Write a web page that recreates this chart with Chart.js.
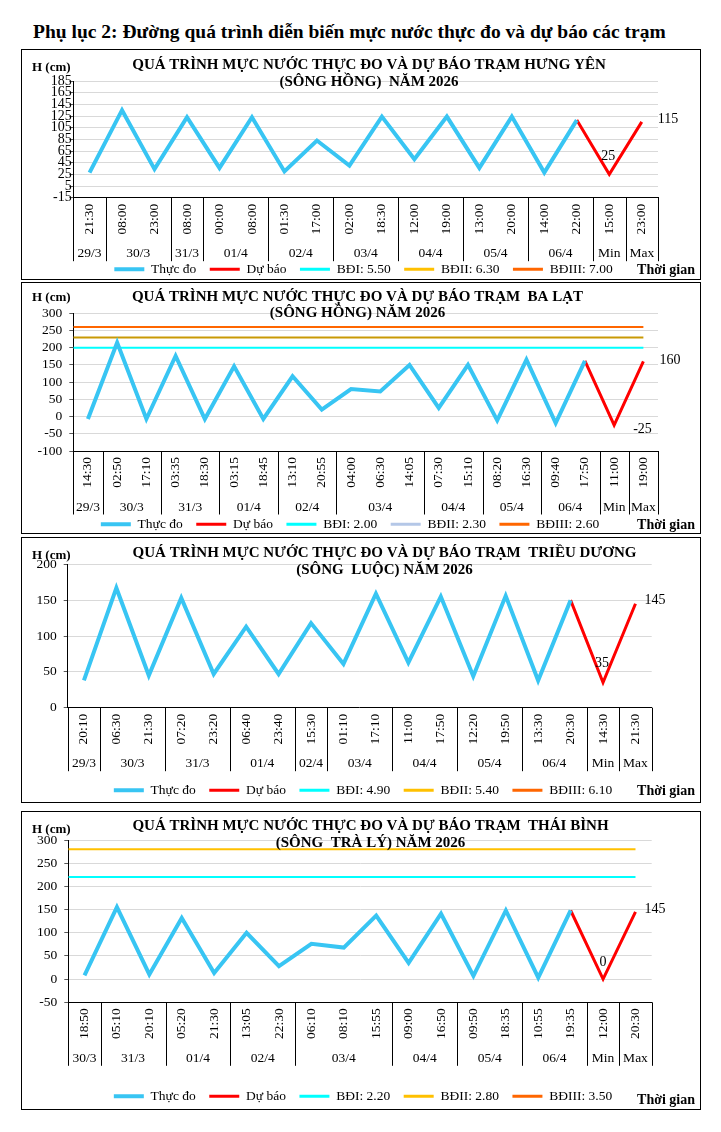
<!DOCTYPE html>
<html>
<head>
<meta charset="utf-8">
<script src="https://cdn.jsdelivr.net/npm/chart.js@4.4.1/dist/chart.umd.min.js"></script>
<style>
  body { margin: 0; width: 721px; height: 1132px; background: #fff; position: relative; overflow: hidden;
         font-family: 'Liberation Serif', 'Times New Roman', serif; }
  #header { position: absolute; left: 33px; top: 21px; font-size: 19.5px; line-height: 22px; font-weight: bold; white-space: nowrap; }
  .panel { position: absolute; left: 21px; width: 678px; border: 1px solid #000; }
  canvas { position: absolute; left: 22px; }
</style>
</head>
<body>
<div id="header">Phụ lục 2: Đường quá trình diễn biến mực nước thực đo và dự báo các trạm</div>

<div class="panel" style="top:49px;height:229px"></div>
<div class="panel" style="top:282px;height:250px"></div>
<div class="panel" style="top:537px;height:264px"></div>
<div class="panel" style="top:811px;height:297px"></div>

<canvas id="c1"></canvas>
<canvas id="c2"></canvas>
<canvas id="c3"></canvas>
<canvas id="c4"></canvas>

<script>
// --- Hưng Yên
const hyTimes = ['21:30','08:00','23:00','08:00','00:00','08:00','01:30','17:00','02:00','18:30','12:00','19:00','13:00','20:00','14:00','22:00','15:00','23:00'];
const hyDays = ['29/3','30/3','31/3','01/4','02/4','03/4','04/4','05/4','06/4','Min','Max'];
const hySpans = [1,2,1,2,2,2,2,2,2,1,1];
const hyMeasured = [28,135,34,123,36,123,30,83,40,124,51,124,36,124,28,118];
const hyForecast = [25,115];
const hyAlarms = [550,630,700];
const hyTicks = [-15,185,20];

// --- Ba Lạt
const blTimes = ['14:30','02:50','17:10','03:35','18:30','03:15','18:45','13:10','20:55','04:00','06:30','14:05','07:30','15:10','08:20','16:30','09:40','17:50','11:00','19:00'];
const blDays = ['29/3','30/3','31/3','01/4','02/4','03/4','04/4','05/4','06/4','Min','Max'];
const blSpans = [1,2,2,2,2,3,2,2,2,1,1];
const blMeasured = [-7,215,-7,176,-7,146,-7,117,20,80,73,150,25,150,-11,165,-19,162];
const blForecast = [-25,160];
const blAlarms = [200,230,260];
const blTicks = [-100,300,50];

// --- Triều Dương
const tdTimes = ['20:10','06:30','21:30','07:20','23:20','06:40','23:40','15:30','01:10','17:10','11:00','17:50','12:20','19:50','13:30','20:30','14:30','21:30'];
const tdDays = ['29/3','30/3','31/3','01/4','02/4','03/4','04/4','05/4','06/4','Min','Max'];
const tdSpans = [1,2,2,2,1,2,2,2,2,1,1];
const tdMeasured = [38,167,45,153,47,113,47,118,61,159,63,155,44,156,38,150];
const tdForecast = [35,145];
const tdAlarms = [490,540,610];
const tdTicks = [0,200,50];

// --- Thái Bình
const tbTimes = ['18:50','05:10','20:10','05:20','21:30','13:05','22:30','06:10','08:10','15:55','09:00','16:50','09:50','18:35','10:55','19:35','12:00','20:30'];
const tbDays = ['30/3','31/3','01/4','02/4','03/4','04/4','05/4','06/4','Min','Max'];
const tbSpans = [1,2,2,2,3,2,2,2,1,1];
const tbMeasured = [8,155,10,132,13,100,28,76,68,137,35,141,7,148,3,148];
const tbForecast = [0,145];
const tbAlarms = [220,280,350];
const tbTicks = [-50,300,50];

const FONT = "'Liberation Serif', 'Times New Roman', serif";
Chart.defaults.font.family = FONT;
Chart.defaults.color = '#000';

const charts = [
  { id: 'c1', top: 50, h: 249, times: hyTimes, days: hyDays, spans: hySpans, measured: hyMeasured, forecast: hyForecast,
    alarms: hyAlarms, ticks: hyTicks,
    title: ['QUÁ TRÌNH MỰC NƯỚC THỰC ĐO VÀ DỰ BÁO TRẠM HƯNG YÊN', '(SÔNG HỒNG)  NĂM 2026'],
    pad: { left: 5, right: 0, top: 31, bottom: 13 }, yW: 46.3, rW: 42, xH: 51.3, yFont: 14, yPad: -2.4,
    titleX: 347, titleY: [15.5, 32], hY: 17.7, tgY: 220,
    maxLab: [16, -3, 'left'], minLab: [-1, -18, 'center'], bd2Line: '#FFC000', bd2Legend: '#FFC000' },
  { id: 'c2', top: 283, h: 270, times: blTimes, days: blDays, spans: blSpans, measured: blMeasured, forecast: blForecast,
    alarms: blAlarms, ticks: blTicks,
    title: ['QUÁ TRÌNH MỰC NƯỚC THỰC ĐO VÀ DỰ BÁO TRẠM  BA LẠT', '(SÔNG HỒNG) NĂM 2026'],
    pad: { left: 0, right: 22, top: 30.3, bottom: 12 }, yW: 51.3, rW: 20, xH: 53, yFont: 13.5, yPad: 7,
    titleX: 335.5, titleY: [14, 30], hY: 14.7, tgY: 242.7,
    maxLab: [16, -1, 'left'], minLab: [19, 4, 'left'], bd2Line: '#C99A06', bd2Legend: '#B4C7E7' },
  { id: 'c3', top: 538, h: 284, times: tdTimes, days: tdDays, spans: tdSpans, measured: tdMeasured, forecast: tdForecast,
    alarms: tdAlarms, ticks: tdTicks,
    title: ['QUÁ TRÌNH MỰC NƯỚC THỰC ĐO VÀ DỰ BÁO TRẠM  TRIỀU DƯƠNG', '(SÔNG  LUỘC) NĂM 2026'],
    pad: { left: 4, right: 0, top: 26.3, bottom: 15 }, yW: 41.7, rW: 48.3, xH: 62.3, yFont: 13.5, yPad: 7,
    titleX: 362.5, titleY: [15, 32], hY: 17.7, tgY: 253.7,
    maxLab: [9, -3, 'left'], minLab: [-1, -19, 'center'], bd2Line: '#FFC000', bd2Legend: '#FFC000' },
  { id: 'c4', top: 812, h: 317, times: tbTimes, days: tbDays, spans: tbSpans, measured: tbMeasured, forecast: tbForecast,
    alarms: tbAlarms, ticks: tbTicks,
    title: ['QUÁ TRÌNH MỰC NƯỚC THỰC ĐO VÀ DỰ BÁO TRẠM  THÁI BÌNH', '(SÔNG  TRÀ LÝ) NĂM 2026'],
    pad: { left: 4, right: 0, top: 28, bottom: 16 }, yW: 42.3, rW: 48.3, xH: 73.7, yFont: 13.5, yPad: 7,
    titleX: 348.5, titleY: [14, 31], hY: 17.3, tgY: 288,
    maxLab: [9, -3, 'left'], minLab: [0, -17, 'center'], bd2Line: '#FFC000', bd2Legend: '#FFC000' },
];

// titles, H (cm), day row, separators, min/max labels
const panelDecor = {
  id: 'panelDecor',
  afterDraw(chart, args, o) {
    const { ctx } = chart;
    const x = chart.scales.x;
    ctx.save();
    ctx.fillStyle = '#000';

    ctx.font = `bold 15px ${FONT}`;
    ctx.textAlign = 'center';
    ctx.textBaseline = 'middle';
    ctx.fillText(o.title[0], o.titleX, o.titleY[0]);
    ctx.fillText(o.title[1], o.titleX, o.titleY[1]);

    ctx.font = `bold 13px ${FONT}`;
    ctx.textAlign = 'left';
    ctx.fillText('H (cm)', 10, o.hY);

    ctx.font = `bold 14px ${FONT}`;
    ctx.textAlign = 'right';
    ctx.fillText('Thời gian', 673, o.tgY);

    // day groups under the time labels
    const bounds = [0];
    o.spans.forEach(s => bounds.push(bounds[bounds.length - 1] + s));
    ctx.strokeStyle = '#000';
    ctx.lineWidth = 1;
    bounds.forEach(b => {
      const px = Math.round(x.getPixelForValue(b - 0.5)) + 0.5;
      ctx.beginPath();
      ctx.moveTo(px, x.top);
      ctx.lineTo(px, x.top + 63.5);
      ctx.stroke();
    });
    ctx.font = `13.5px ${FONT}`;
    ctx.textAlign = 'center';
    o.days.forEach((d, i) => {
      const cx = (x.getPixelForValue(bounds[i] - 0.5) + x.getPixelForValue(bounds[i + 1] - 0.5)) / 2;
      ctx.fillText(d, cx, x.top + 56);
    });

    // forecast min / max value labels
    const meta = chart.getDatasetMeta(1);
    const n = o.times.length;
    ctx.font = `14px ${FONT}`;
    [[n - 2, o.minLab, o.forecast[0]], [n - 1, o.maxLab, o.forecast[1]]].forEach(([i, lab, v]) => {
      const p = meta.data[i];
      ctx.textAlign = lab[2];
      ctx.fillText(String(v), p.x + lab[0], p.y + lab[1]);
    });
    ctx.restore();
  }
};

charts.forEach(c => {
  const cv = document.getElementById(c.id);
  cv.width = 678;
  cv.height = c.h;
  cv.style.top = c.top + 'px';
  cv.style.width = '678px';
  cv.style.height = c.h + 'px';

  const n = c.times.length;
  const nm = c.measured.length;
  const measuredFull = c.measured.concat(Array(n - nm).fill(null));
  const forecastFull = Array(nm - 1).fill(null).concat([c.measured[nm - 1]], c.forecast);
  const alarmLine = v => [{ x: -0.5, y: v }, { x: n - 1, y: v }];
  const fmt = v => (v / 100).toFixed(2);
  const [yMin, yMax, yStep] = c.ticks;

  new Chart(cv, {
    type: 'line',
    data: {
      labels: c.times,
      datasets: [
        { label: 'Thực đo', data: measuredFull, borderColor: '#38C5F3', borderWidth: 4, pointRadius: 0 },
        { label: 'Dự báo', data: forecastFull, borderColor: '#FF0000', borderWidth: 3, pointRadius: 0 },
        { label: 'BĐI: ' + fmt(c.alarms[0]), data: alarmLine(c.alarms[0]), xAxisID: 'x2', borderColor: '#00FFFF', borderWidth: 2, pointRadius: 0 },
        { label: 'BĐII: ' + fmt(c.alarms[1]), data: alarmLine(c.alarms[1]), xAxisID: 'x2', borderColor: c.bd2Line, legendColor: c.bd2Legend, borderWidth: 2, pointRadius: 0 },
        { label: 'BĐIII: ' + fmt(c.alarms[2]), data: alarmLine(c.alarms[2]), xAxisID: 'x2', borderColor: '#FF6600', borderWidth: 2, pointRadius: 0 },
      ],
    },
    options: {
      responsive: false,
      animation: false,
      layout: { padding: c.pad, autoPadding: false },
      elements: { line: { tension: 0, borderJoinStyle: 'miter' } },
      plugins: {
        legend: {
          position: 'bottom',
          labels: {
            font: { family: FONT, size: 13.5 },
            usePointStyle: true,
            pointStyle: 'line',
            pointStyleWidth: 30,
            padding: 13.5,
            color: '#000',
            generateLabels: chart => {
              const items = Chart.defaults.plugins.legend.labels.generateLabels(chart);
              items.forEach(it => {
                const ds = chart.data.datasets[it.datasetIndex];
                if (ds.legendColor) it.strokeStyle = ds.legendColor;
                it.lineWidth = Math.max(it.lineWidth, 3);
              });
              return items;
            },
          },
        },
        tooltip: { enabled: false },
        panelDecor: c,
      },
      scales: {
        x: {
          type: 'category',
          offset: true,
          grid: { display: false, drawTicks: false },
          border: { display: true, color: '#000', width: 1 },
          ticks: { autoSkip: false, minRotation: 90, maxRotation: 90, padding: 6, font: { family: FONT, size: 13.5 }, color: '#000' },
          afterFit: s => { s.height = c.xH; },
        },
        x2: { type: 'linear', display: false, min: -0.5, max: n - 0.5 },
        y: {
          min: yMin, max: yMax,
          grid: {
            color: ctx => (ctx.tick && ctx.tick.value === yMin ? 'rgba(0,0,0,0)' : '#D9D9D9'),
            tickColor: '#595959', tickLength: 4, lineWidth: 1,
          },
          border: { display: true, color: '#000', width: 1 },
          ticks: { stepSize: yStep, autoSkip: false, padding: c.yPad, font: { family: FONT, size: c.yFont }, color: '#000' },
          afterFit: s => { s.width = c.yW; },
        },
        pad: {
          type: 'linear', position: 'right', display: true, min: 0, max: 1,
          grid: { display: false, drawTicks: false }, border: { display: false }, ticks: { display: false },
          afterFit: s => { s.width = c.rW; },
        },
      },
    },
    plugins: [panelDecor],
  });
});
</script>
</body>
</html>
